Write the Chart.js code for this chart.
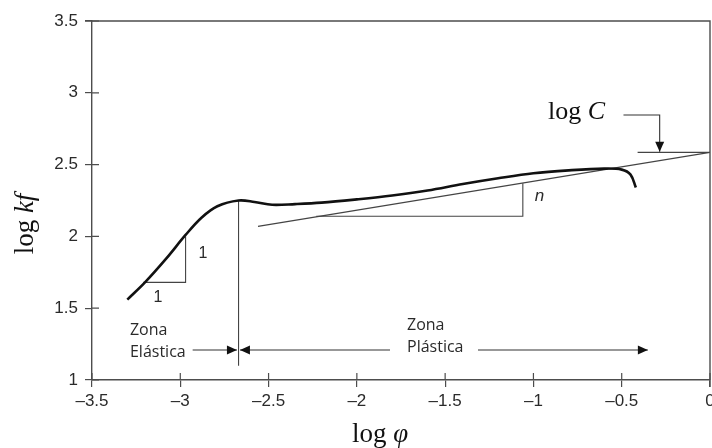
<!DOCTYPE html>
<html>
<head>
<meta charset="utf-8">
<script src="https://cdn.jsdelivr.net/npm/chart.js@4"></script>
<style>
  html, body { margin: 0; padding: 0; background: #fff; }
</style>
</head>
<body>
<canvas id="flowChart" width="712" height="448"></canvas>
<script>
// axis ticks
const xTicks = [-3.5, -3, -2.5, -2, -1.5, -1, -0.5, 0];
const yTicks = [1, 1.5, 2, 2.5, 3, 3.5];

// flow curve (log phi, log kf)
const curveX = [-3.30, -3.20, -3.08, -2.97, -2.88, -2.79, -2.67, -2.58, -2.48, -2.35, -2.2, -2.0, -1.8, -1.6, -1.4, -1.2, -1.0, -0.8, -0.6, -0.5, -0.45, -0.42];
const curveY = [1.56, 1.68, 1.845, 2.01, 2.13, 2.21, 2.25, 2.24, 2.22, 2.225, 2.235, 2.258, 2.285, 2.32, 2.365, 2.405, 2.44, 2.46, 2.472, 2.465, 2.43, 2.34];

// fitted line log kf = log C + n log phi
const fitX = [-2.56, 0];
const fitY = [2.07, 2.585];
const logCX = [-0.41, 0];
const logCY = [2.585, 2.585];

// slope triangles
const nTriX = [-2.23, -1.06, -1.06];
const nTriY = [2.14, 2.14, 2.37];
const oneTriX = [-3.21, -2.97, -2.97];
const oneTriY = [1.68, 1.68, 2.0];

// elastic / plastic limit
const limitX = [-2.67, -2.67];
const limitY = [2.25, 1.1];

// arrows: [fromX, fromY, toX, toY]
const arrowY = 1.209;
const elasticArrow = [-2.93, arrowY, -2.679, arrowY];
const plasticArrowL = [-1.812, arrowY, -2.662, arrowY];
const plasticArrowR = [-1.314, arrowY, -0.352, arrowY];
const logCArrowX = [-0.49, -0.285, -0.285];
const logCArrowY = [2.845, 2.845, 2.59];

const toPoints = (xs, ys) => xs.map((x, i) => ({ x: x, y: ys[i] }));

const thin = (xs, ys) => ({
    data: toPoints(xs, ys),
    borderColor: '#444',
    borderWidth: 1.1,
    pointRadius: 0,
    showLine: true,
    tension: 0
});

const fmt = v => (v < 0 ? '\u2013' : '') + Math.abs(v);

const ink = '#2a2a2a';
const frameColor = '#4d4d4d';

let drawRich = function (ctx, parts, x, y, align) {
    let total = 0;
    parts.forEach(p => { ctx.font = p.font; total += ctx.measureText(p.text).width; });
    let cx = align === 'center' ? x - total / 2 : x;
    ctx.textAlign = 'left';
    ctx.textBaseline = 'alphabetic';
    parts.forEach(p => {
        ctx.font = p.font;
        ctx.fillText(p.text, cx, y);
        cx += ctx.measureText(p.text).width;
    });
};

let arrowHead = function (ctx, x1, y1, x2, y2) {
    const ang = Math.atan2(y2 - y1, x2 - x1);
    const len = 10, half = 4.5;
    ctx.beginPath();
    ctx.moveTo(x2, y2);
    ctx.lineTo(x2 - len * Math.cos(ang) + half * Math.sin(ang), y2 - len * Math.sin(ang) - half * Math.cos(ang));
    ctx.lineTo(x2 - len * Math.cos(ang) - half * Math.sin(ang), y2 - len * Math.sin(ang) + half * Math.cos(ang));
    ctx.closePath();
    ctx.fill();
};

const extras = {
    id: 'extras',
    afterDraw(chart) {
        const ctx = chart.ctx;
        const xs = chart.scales.x, ys = chart.scales.y;
        const a = chart.chartArea;
        const px = v => xs.getPixelForValue(v);
        const py = v => ys.getPixelForValue(v);
        ctx.save();

        // frame top/right and inward ticks
        ctx.strokeStyle = frameColor;
        ctx.lineWidth = 1.4;
        ctx.beginPath();
        ctx.moveTo(a.left - 7, a.top);
        ctx.lineTo(a.right, a.top);
        ctx.lineTo(a.right, a.bottom + 7);
        ctx.stroke();
        ctx.lineWidth = 1.2;
        ctx.beginPath();
        xTicks.forEach(v => { ctx.moveTo(px(v), a.bottom); ctx.lineTo(px(v), a.bottom - 7); });
        yTicks.forEach(v => { ctx.moveTo(a.left, py(v)); ctx.lineTo(a.left + 7, py(v)); });
        ctx.stroke();

        // arrows
        ctx.strokeStyle = '#333';
        ctx.fillStyle = '#111';
        ctx.lineWidth = 1.1;
        [elasticArrow, plasticArrowL, plasticArrowR].forEach(ar => {
            const x1 = px(ar[0]), y1 = py(ar[1]), x2 = px(ar[2]), y2 = py(ar[3]);
            ctx.beginPath();
            ctx.moveTo(x1, y1);
            ctx.lineTo(x2, y2);
            ctx.stroke();
            arrowHead(ctx, x1, y1, x2, y2);
        });
        ctx.beginPath();
        logCArrowX.forEach((v, i) => {
            if (i === 0) ctx.moveTo(px(v), py(logCArrowY[i]));
            else ctx.lineTo(px(v), py(logCArrowY[i]));
        });
        ctx.stroke();
        const n = logCArrowX.length;
        arrowHead(ctx, px(logCArrowX[n - 2]), py(logCArrowY[n - 2]), px(logCArrowX[n - 1]), py(logCArrowY[n - 1]));

        // annotation texts
        ctx.fillStyle = ink;
        const sans = '16px "Open Sans"';
        drawRich(ctx, [{ text: 'Zona', font: sans }], px(-3.285), py(1.313));
        drawRich(ctx, [{ text: 'Elástica', font: sans }], px(-3.285), py(1.16));
        drawRich(ctx, [{ text: 'Zona', font: sans }], px(-1.716), py(1.348));
        drawRich(ctx, [{ text: 'Plástica', font: sans }], px(-1.716), py(1.195));

        const num = '16px "Liberation Sans"';
        ctx.font = num;
        ctx.textAlign = 'center';
        ctx.textBaseline = 'middle';
        ctx.fillText('1', px(-2.871), py(1.877));
        ctx.fillText('1', px(-3.126), py(1.571));
        drawRich(ctx, [{ text: 'n', font: 'italic 17px "Liberation Sans"' }], px(-0.992), py(2.247));

        ctx.fillStyle = '#111';
        drawRich(ctx, [
            { text: 'log ', font: '26px "Liberation Serif"' },
            { text: 'C', font: 'italic 26px "Liberation Serif"' }
        ], px(-0.918), py(2.818));

        // axis titles
        drawRich(ctx, [
            { text: 'log ', font: '27px "Liberation Serif"' },
            { text: 'φ', font: 'italic 27px "Liberation Serif"' }
        ], 380, 442, 'center');

        ctx.translate(33, 224);
        ctx.rotate(-Math.PI / 2);
        drawRich(ctx, [
            { text: 'log ', font: '27px "Liberation Serif"' },
            { text: 'kf', font: 'italic 27px "Liberation Serif"' }
        ], 0, 0, 'center');
        ctx.restore();
    }
};

const axisFont = { family: '"Liberation Sans", Arial, sans-serif', size: 17 };

new Chart(document.getElementById('flowChart'), {
    type: 'scatter',
    data: {
        datasets: [
            {
                data: toPoints(curveX, curveY),
                borderColor: '#111',
                borderWidth: 2.6,
                pointRadius: 0,
                showLine: true,
                tension: 0.35
            },
            thin(fitX, fitY),
            thin(logCX, logCY),
            thin(nTriX, nTriY),
            thin(oneTriX, oneTriY),
            thin(limitX, limitY)
        ]
    },
    options: {
        responsive: false,
        devicePixelRatio: 1,
        animation: false,
        layout: { padding: { top: 21, right: 2, left: 0, bottom: 0 } },
        plugins: {
            legend: { display: false },
            tooltip: { enabled: false }
        },
        scales: {
            x: {
                type: 'linear',
                min: -3.5,
                max: 0,
                afterBuildTicks: s => { s.ticks = xTicks.map(v => ({ value: v })); },
                afterFit: s => { s.height = 68; s.paddingLeft = 0; s.paddingRight = 0; },
                grid: { drawOnChartArea: false, drawTicks: true, tickLength: 7, color: frameColor, lineWidth: 1.2 },
                border: { display: true, color: frameColor, width: 1.4 },
                ticks: { font: axisFont, color: ink, padding: 4, maxRotation: 0, autoSkip: false, callback: fmt }
            },
            y: {
                type: 'linear',
                min: 1,
                max: 3.5,
                afterBuildTicks: s => { s.ticks = yTicks.map(v => ({ value: v })); },
                afterFit: s => { s.width = 92; s.paddingTop = 0; s.paddingBottom = 0; },
                grid: { drawOnChartArea: false, drawTicks: true, tickLength: 7, color: frameColor, lineWidth: 1.2 },
                border: { display: true, color: frameColor, width: 1.4 },
                ticks: { font: axisFont, color: ink, padding: 7, autoSkip: false, callback: fmt }
            }
        }
    },
    plugins: [extras]
});
</script>
</body>
</html>
